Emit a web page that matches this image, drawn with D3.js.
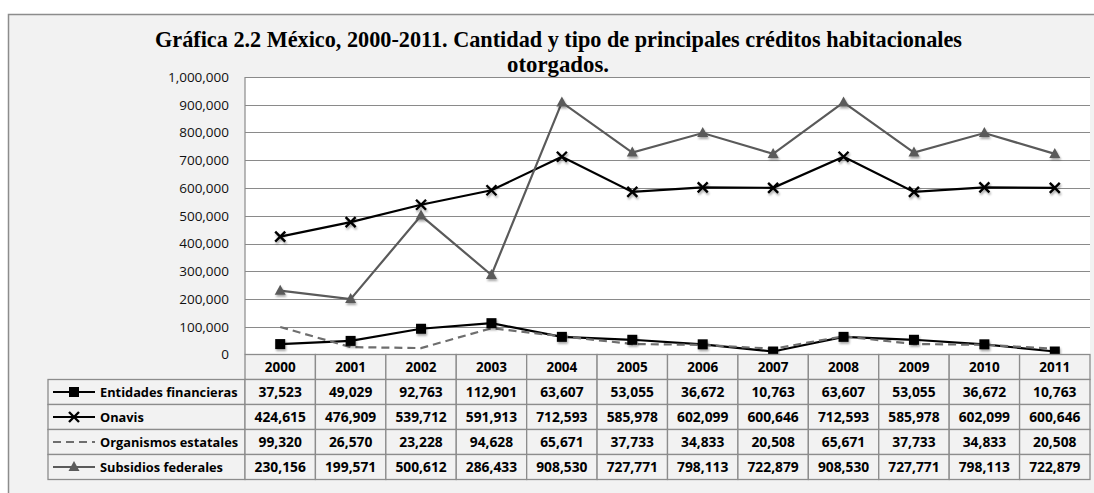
<!DOCTYPE html>
<html><head><meta charset="utf-8">
<script src="https://cdn.jsdelivr.net/npm/d3@7"></script>
<style>body{margin:0;background:#fff}svg{display:block}</style>
</head><body>
<script>
const years = ["2000","2001","2002","2003","2004","2005","2006","2007","2008","2009","2010","2011"];
const entidades = [37523,49029,92763,112901,63607,53055,36672,10763,63607,53055,36672,10763];
const onavis = [424615,476909,539712,591913,712593,585978,602099,600646,712593,585978,602099,600646];
const organismos = [99320,26570,23228,94628,65671,37733,34833,20508,65671,37733,34833,20508];
const subsidios = [230156,199571,500612,286433,908530,727771,798113,722879,908530,727771,798113,722879];
const seriesNames = ["Entidades financieras","Onavis","Organismos estatales","Subsidios federales"];
const yTicks = [0,100000,200000,300000,400000,500000,600000,700000,800000,900000,1000000];
const titleLines = ["Gráfica 2.2 México, 2000-2011. Cantidad y tipo de principales créditos habitacionales","otorgados."];

const series = [
  {name: seriesNames[0], values: entidades, color: "#000", dash: null, marker: "square"},
  {name: seriesNames[1], values: onavis, color: "#000", dash: null, marker: "x"},
  {name: seriesNames[2], values: organismos, color: "#6e6e6e", dash: "8,5", marker: null},
  {name: seriesNames[3], values: subsidios, color: "#5a5a5a", dash: null, marker: "triangle"}
];

const W = 1094, H = 493;
const svg = d3.select("body").append("svg").attr("width", W).attr("height", H);
const defs = svg.append("defs");
const f = defs.append("filter").attr("id","sh").attr("x","-50%").attr("y","-50%").attr("width","200%").attr("height","200%");
f.append("feDropShadow").attr("dx",1).attr("dy",2).attr("stdDeviation",1.2).attr("flood-color","#000").attr("flood-opacity",0.35);

// frame
svg.append("rect").attr("x",8.5).attr("y",14.5).attr("width",1095).attr("height",500)
  .attr("fill","#f2f2f2").attr("stroke","#8c8c8c").attr("stroke-width",1.5);

const plotL = 245, plotR = 1090, plotT = 77, plotB = 354.5;
const x = d3.scaleBand().domain(years).range([plotL, plotR]).padding(0);
const y = d3.scaleLinear().domain([0, 1000000]).range([plotB, plotT]);

// plot area
svg.append("rect").attr("x",plotL).attr("y",plotT).attr("width",plotR-plotL).attr("height",plotB-plotT).attr("fill","#fff");

// gridlines
svg.append("g").selectAll("line").data(yTicks.filter(d=>d>0)).join("line")
  .attr("x1",plotL).attr("x2",plotR).attr("y1",d=>Math.round(y(d))+0.5).attr("y2",d=>Math.round(y(d))+0.5)
  .attr("stroke","#8a8a8a").attr("stroke-width",1.2);

// y axis
const yAxis = d3.axisLeft(y).tickValues(yTicks).tickSize(0).tickPadding(16).tickFormat(d3.format(","));
const ya = svg.append("g").attr("transform",`translate(${plotL},0)`).call(yAxis);
ya.select(".domain").remove();
ya.selectAll("text").attr("font-family","'Open Sans', sans-serif").attr("font-size","13.5px").attr("fill","#111");
svg.append("line").attr("x1",plotL).attr("x2",plotL).attr("y1",plotT).attr("y2",plotB).attr("stroke","#8a8a8a").attr("stroke-width",1.2);

// title
const t = svg.append("g").attr("font-family","'Liberation Serif','Times New Roman',serif").attr("font-weight","bold").attr("font-size","23px").attr("fill","#000").attr("text-anchor","middle");
t.append("text").attr("x",558.5).attr("y",47).attr("textLength",807).attr("lengthAdjust","spacingAndGlyphs").text(titleLines[0]);
t.append("text").attr("x",558).attr("y",72).attr("textLength",102).attr("lengthAdjust","spacingAndGlyphs").text(titleLines[1]);

// lines
const line = d3.line().x((d,i)=>x(years[i])+x.bandwidth()/2).y(d=>y(d));
series.forEach(s=>{
  svg.append("path").datum(s.values).attr("d",line).attr("fill","none")
    .attr("stroke",s.color).attr("stroke-width",2.2).attr("stroke-dasharray",s.dash);
});

function drawMarker(g, type, cx, cy, color, shadow){
  let m;
  if(type==="square"){
    m = g.append("rect").attr("x",cx-5).attr("y",cy-5).attr("width",10).attr("height",10).attr("fill",color);
  } else if(type==="x"){
    m = g.append("path").attr("d",`M${cx-5},${cy-5}L${cx+5},${cy+5}M${cx-5},${cy+5}L${cx+5},${cy-5}`)
      .attr("stroke",color).attr("stroke-width",2.4).attr("fill","none");
  } else if(type==="triangle"){
    m = g.append("path").attr("d",`M${cx},${cy-6}L${cx+5.5},${cy+4}L${cx-5.5},${cy+4}Z`).attr("fill",color);
  }
  if(m && shadow) m.attr("filter","url(#sh)");
}
series.forEach(s=>{
  if(!s.marker) return;
  const g = svg.append("g");
  s.values.forEach((v,i)=>drawMarker(g, s.marker, x(years[i])+x.bandwidth()/2, y(v), s.color, true));
});

// table
const rowH = 25, tblT = plotB, legL = 48;
const tb = svg.append("g");
const gridC = "#8c8c8c";
const tf = "'Open Sans', sans-serif";
tb.selectAll("rect.h").data(years).join("rect").attr("class","h")
  .attr("x",d=>x(d)).attr("y",tblT).attr("width",x.bandwidth()).attr("height",rowH)
  .attr("fill","#f2f2f2").attr("stroke",gridC).attr("stroke-width",1.3);
tb.selectAll("text.h").data(years).join("text").attr("class","h")
  .attr("x",d=>x(d)+x.bandwidth()/2).attr("y",tblT+rowH/2+5)
  .attr("text-anchor","middle").attr("font-family",tf).attr("font-weight","bold").attr("font-size","13.5px").attr("fill","#000")
  .text(d=>d);
const fmt = d3.format(",");
series.forEach((s,r)=>{
  const ry = tblT + rowH*(r+1);
  tb.append("rect").attr("x",legL).attr("y",ry).attr("width",plotL-legL).attr("height",rowH)
    .attr("fill","#f2f2f2").attr("stroke",gridC).attr("stroke-width",1.3);
  years.forEach((yr,i)=>{
    tb.append("rect").attr("x",x(yr)).attr("y",ry).attr("width",x.bandwidth()).attr("height",rowH)
      .attr("fill","#f2f2f2").attr("stroke",gridC).attr("stroke-width",1.3);
    tb.append("text").attr("x",x(yr)+x.bandwidth()/2).attr("y",ry+rowH/2+5)
      .attr("text-anchor","middle").attr("font-family",tf).attr("font-weight","bold").attr("font-size","13.8px").attr("fill","#000")
      .text(fmt(s.values[i]));
  });
  const cy = ry + rowH/2;
  tb.append("line").attr("x1",53).attr("x2",95).attr("y1",cy).attr("y2",cy)
    .attr("stroke",s.color).attr("stroke-width",2.2).attr("stroke-dasharray",s.dash);
  if(s.marker) drawMarker(tb, s.marker, 74, cy, s.color, false);
  tb.append("text").attr("x",100).attr("y",cy+5).attr("font-family",tf).attr("font-weight","bold").attr("font-size","12.8px").attr("fill","#000")
    .text(s.name);
});
</script>
</body></html>
